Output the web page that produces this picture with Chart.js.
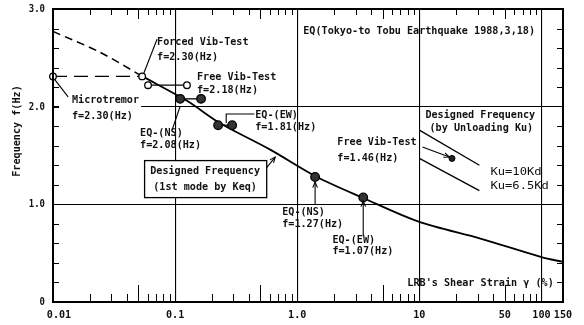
<!DOCTYPE html>
<html><head><meta charset="utf-8">
<script src="https://cdn.jsdelivr.net/npm/chart.js@4"></script>
<style>html,body{margin:0;padding:0;background:#fff;}canvas{display:block;}</style>
</head><body>
<canvas id="c" width="584" height="325"></canvas>
<script>
// ---- axis ticks ----
const xTickValues = [0.01, 0.1, 1, 10, 50, 100, 150];
const xTickLabels = ['0.01', '0.1', '1.0', '10', '50', '100', '150'];
const xGridValues = [0.1, 1, 10, 100];
const yTickValues = [0, 1, 2, 3];
const yTickLabels = ['0', '1.0', '2.0', '3.0'];
const yGridValues = [1, 2];

// ---- series (shear strain %, frequency Hz) ----
const curveDashedStrain = [0.01, 0.024, 0.054];
const curveDashedFreq   = [2.77, 2.56, 2.31];
const curveStrain = [0.054, 0.125, 0.234, 0.6, 1.45, 3.47, 10, 31.6, 100, 150];
const curveFreq   = [2.31, 2.06, 1.83, 1.56, 1.28, 1.065, 0.82, 0.65, 0.46, 0.41];
const microForcedStrain = [0.01, 0.0537];
const microForcedFreq   = [2.31, 2.31];
const freeVib1Strain = [0.060, 0.125];
const freeVib1Freq   = [2.22, 2.22];
const eqNS1Strain = [0.11, 0.163];
const eqNS1Freq   = [2.08, 2.08];
const eqEW1Strain = [0.225, 0.293];
const eqEW1Freq   = [1.81, 1.81];
const eqNS2Strain = [1.40];
const eqNS2Freq   = [1.28];
const eqEW2Strain = [3.47];
const eqEW2Freq   = [1.07];
const freeVib2Strain = [18.5];
const freeVib2Freq   = [1.47];
const ku10Strain = [10, 31];
const ku10Freq   = [1.76, 1.40];
const ku65Strain = [10, 31];
const ku65Freq   = [1.47, 1.14];

const pts = (xs, ys) => xs.map((x, i) => ({x, y: ys[i]}));

// ---- annotations (anchored in data units) ----
const textNotes = [
  {t: 'Forced Vib-Test', x: 0.0711, y: 2.66},
  {t: 'f=2.30(Hz)', x: 0.0711, y: 2.51},
  {t: 'Free Vib-Test', x: 0.151, y: 2.305},
  {t: 'f=2.18(Hz)', x: 0.151, y: 2.17},
  {t: 'Microtremor', x: 0.0143, y: 2.07},
  {t: 'f=2.30(Hz)', x: 0.0143, y: 1.905},
  {t: 'EQ-(NS)', x: 0.0516, y: 1.73},
  {t: 'f=2.08(Hz)', x: 0.0516, y: 1.607},
  {t: 'EQ-(EW)', x: 0.453, y: 1.914},
  {t: 'f=1.81(Hz)', x: 0.453, y: 1.79},
  {t: 'EQ(Tokyo-to Tobu Earthquake 1988,3,18)', x: 1.12, y: 2.77},
  {t: 'Free Vib-Test', x: 2.13, y: 1.638},
  {t: 'f=1.46(Hz)', x: 2.13, y: 1.474},
  {t: 'EQ-(NS)', x: 0.753, y: 0.92},
  {t: 'f=1.27(Hz)', x: 0.753, y: 0.797},
  {t: 'EQ-(EW)', x: 1.94, y: 0.633},
  {t: 'f=1.07(Hz)', x: 1.94, y: 0.52},
  {t: "LRB's Shear Strain γ (%)", x: 7.97, y: 0.19},
  {t: 'Designed Frequency', x: 11.2, y: 1.914},
  {t: '(by Unloading Ku)', x: 12.1, y: 1.781},
  {t: 'Ku=10Kd', x: 38.2, y: 1.33, wide: true},
  {t: 'Ku=6.5Kd', x: 38.2, y: 1.187, wide: true}
];
const maskRect = {x0: 0.0112, x1: 0.0526, y0: 2.13, y1: 1.843};
const boxNote = {x0: 0.0557, x1: 0.557, y0: 1.453, y1: 1.074, cx: 0.176,
  lines: [['Designed Frequency', 1.341], ['(1st mode by Keq)', 1.176]]};
const leaders = [
  {p: [[0.0555, 2.345], [0.0711, 2.69]]},
  {p: [[0.0103, 2.28], [0.0133, 2.10]]},
  {p: [[0.11, 2.004], [0.0945, 1.763]]},
  {p: [[0.262, 1.833], [0.262, 1.925], [0.445, 1.925]]},
  {p: [[0.557, 1.371], [0.66, 1.484]], arrow: true},
  {p: [[1.40, 0.992], [1.40, 1.228]], arrow: true},
  {p: [[3.47, 0.674], [3.47, 1.033]], arrow: true},
  {p: [[10.6, 1.587], [17.6, 1.484]], arrow: true}
];

const FONT = '"DejaVu Sans Mono", "Liberation Mono", monospace';
function drawText(ctx, t, x, y, opt = {}) {
  const size = opt.size || 11, pitch = opt.pitch || 6.1;
  ctx.save();
  ctx.font = (opt.weight || 'bold') + ' ' + size + 'px ' + FONT;
  const w0 = ctx.measureText(t).width;
  const sx = (pitch * t.length) / w0;
  const w = w0 * sx;
  let x0 = x;
  if (opt.align === 'center') x0 = x - w / 2;
  else if (opt.align === 'right') x0 = x - w;
  ctx.translate(x0, y);
  ctx.scale(sx, 1);
  ctx.fillStyle = '#111';
  ctx.textBaseline = 'middle';
  ctx.textAlign = 'left';
  ctx.fillText(t, 0, 0);
  ctx.restore();
}

const decor = {
  id: 'decor',
  beforeDatasetsDraw(chart) {
    const {ctx} = chart, X = v => chart.scales.x.getPixelForValue(v), Y = v => chart.scales.y.getPixelForValue(v);
    ctx.save();
    ctx.fillStyle = '#fff';
    ctx.fillRect(X(maskRect.x0), Y(maskRect.y0), X(maskRect.x1) - X(maskRect.x0), Y(maskRect.y1) - Y(maskRect.y0));
    ctx.restore();
  },
  afterDatasetsDraw(chart) {
    const {ctx, chartArea: a} = chart;
    const X = v => chart.scales.x.getPixelForValue(v), Y = v => chart.scales.y.getPixelForValue(v);
    ctx.save();
    // frame
    ctx.strokeStyle = '#000';
    ctx.lineWidth = 2;
    ctx.strokeRect(a.left, a.top, a.right - a.left, a.bottom - a.top);
    // minor ticks x
    ctx.lineWidth = 1;
    for (let d = 0.01; d < 200; d *= 10) {
      for (let m = 2; m <= 9; m++) {
        const v = +(d * m).toPrecision(3);
        if (v > 150) break;
        const px = Math.round(X(v)) + 0.5;
        const lb = m === 5 ? 17 : 8, lt = m === 5 ? 10 : 6;
        ctx.beginPath();
        ctx.moveTo(px, a.bottom); ctx.lineTo(px, a.bottom - lb);
        ctx.moveTo(px, a.top); ctx.lineTo(px, a.top + lt);
        ctx.stroke();
      }
    }
    // minor ticks y
    for (let k = 1; k < 15; k++) {
      const v = k * 0.2;
      if (Math.abs(v - 1) < 1e-6 || Math.abs(v - 2) < 1e-6) continue;
      const py = Math.round(Y(v)) + 0.5;
      ctx.beginPath();
      ctx.moveTo(a.left, py); ctx.lineTo(a.left + 6, py);
      ctx.moveTo(a.right, py); ctx.lineTo(a.right - 6, py);
      ctx.stroke();
    }
    ctx.beginPath();
    [1, 2].forEach(v => { const py = Math.round(Y(v)) + 0.5; ctx.moveTo(a.left, py); ctx.lineTo(a.left + 6, py); });
    ctx.stroke();
    // tick labels
    xTickValues.forEach((v, i) => {
      let px = X(v);
      if (i === 0) px += 6;
      drawText(ctx, xTickLabels[i], px, 315, {align: 'center'});
    });
    yTickValues.forEach((v, i) => {
      drawText(ctx, yTickLabels[i], 45, Y(v), {align: 'right', pitch: 5.4});
    });
    // y title
    ctx.save();
    ctx.translate(17, 131);
    ctx.rotate(-Math.PI / 2);
    drawText(ctx, 'Frequency f(Hz)', 0, 0, {align: 'center', size: 10, pitch: 6.1});
    ctx.restore();
    // leaders
    ctx.lineWidth = 1.1;
    leaders.forEach(L => {
      ctx.beginPath();
      L.p.forEach(([x, y], j) => j ? ctx.lineTo(X(x), Y(y)) : ctx.moveTo(X(x), Y(y)));
      ctx.stroke();
      if (L.arrow) {
        const [x1, y1] = L.p[L.p.length - 2], [x2, y2] = L.p[L.p.length - 1];
        const ax = X(x2), ay = Y(y2), ang = Math.atan2(ay - Y(y1), ax - X(x1));
        ctx.beginPath();
        ctx.moveTo(ax - 6 * Math.cos(ang - 0.4), ay - 6 * Math.sin(ang - 0.4));
        ctx.lineTo(ax, ay);
        ctx.lineTo(ax - 6 * Math.cos(ang + 0.4), ay - 6 * Math.sin(ang + 0.4));
        ctx.stroke();
      }
    });
    // box
    const bx = X(boxNote.x0), by = Y(boxNote.y0), bw = X(boxNote.x1) - bx, bh = Y(boxNote.y1) - by;
    ctx.fillStyle = '#fff';
    ctx.fillRect(bx, by, bw, bh);
    ctx.lineWidth = 1.3;
    ctx.strokeRect(bx + 0.5, by + 0.5, bw, bh);
    boxNote.lines.forEach(([t, y]) => drawText(ctx, t, X(boxNote.cx), Y(y), {align: 'center'}));
    // texts
    textNotes.forEach(n => drawText(ctx, n.t, X(n.x), Y(n.y), n.wide ? {size: 11, pitch: 7.3, weight: 'normal'} : {}));
    ctx.restore();
  }
};

const openPt = {pointRadius: 3.3, pointBackgroundColor: '#fff', pointBorderColor: '#000', pointBorderWidth: 1.3};
const fillPt = {pointRadius: 4.3, pointBackgroundColor: '#333', pointBorderColor: '#000', pointBorderWidth: 1.3};
const noPt = {pointRadius: 0};
const lineBase = {showLine: true, borderColor: '#000', borderWidth: 1.3, fill: false};

new Chart(document.getElementById('c'), {
  type: 'scatter',
  data: {
    datasets: [
      Object.assign({data: pts(freeVib2Strain, freeVib2Freq)}, lineBase, {pointRadius: 3, pointBackgroundColor: '#222', pointBorderColor: '#000', pointBorderWidth: 1}),
      Object.assign({data: pts(eqNS2Strain, eqNS2Freq)}, lineBase, fillPt),
      Object.assign({data: pts(eqEW2Strain, eqEW2Freq)}, lineBase, fillPt),
      Object.assign({data: pts(eqEW1Strain, eqEW1Freq)}, lineBase, fillPt),
      Object.assign({data: pts(eqNS1Strain, eqNS1Freq)}, lineBase, fillPt),
      Object.assign({data: pts(freeVib1Strain, freeVib1Freq)}, lineBase, openPt),
      Object.assign({data: pts(microForcedStrain, microForcedFreq)}, lineBase, openPt, {borderDash: [14, 7], clip: false}),
      Object.assign({data: pts(ku10Strain, ku10Freq)}, lineBase, noPt),
      Object.assign({data: pts(ku65Strain, ku65Freq)}, lineBase, noPt),
      Object.assign({data: pts(curveStrain, curveFreq)}, lineBase, noPt, {borderWidth: 1.8, tension: 0.3}),
      Object.assign({data: pts(curveDashedStrain, curveDashedFreq)}, lineBase, noPt, {borderWidth: 1.5, borderDash: [8, 5], tension: 0.3})
    ]
  },
  options: {
    responsive: false,
    animation: false,
    devicePixelRatio: 1,
    layout: {padding: {left: 0, right: 21, top: 9, bottom: 0}},
    plugins: {legend: {display: false}, tooltip: {enabled: false}},
    scales: {
      x: {
        type: 'logarithmic', min: 0.01, max: 150,
        afterBuildTicks: s => { s.ticks = xTickValues.map(v => ({value: v})); },
        afterFit: s => { s.height = 23; },
        ticks: {display: false},
        grid: {drawTicks: false, lineWidth: 1.1, color: c => xGridValues.includes(c.tick && c.tick.value) ? '#000' : 'rgba(0,0,0,0)'},
        border: {display: true, color: '#000', width: 2}
      },
      y: {
        type: 'linear', min: 0, max: 3,
        afterBuildTicks: s => { s.ticks = yTickValues.map(v => ({value: v})); },
        afterFit: s => { s.width = 53; },
        ticks: {display: false},
        grid: {drawTicks: false, lineWidth: 1.1, color: c => yGridValues.includes(c.tick && c.tick.value) ? '#000' : 'rgba(0,0,0,0)'},
        border: {display: true, color: '#000', width: 2}
      }
    }
  },
  plugins: [decor]
});
</script>
</body></html>
